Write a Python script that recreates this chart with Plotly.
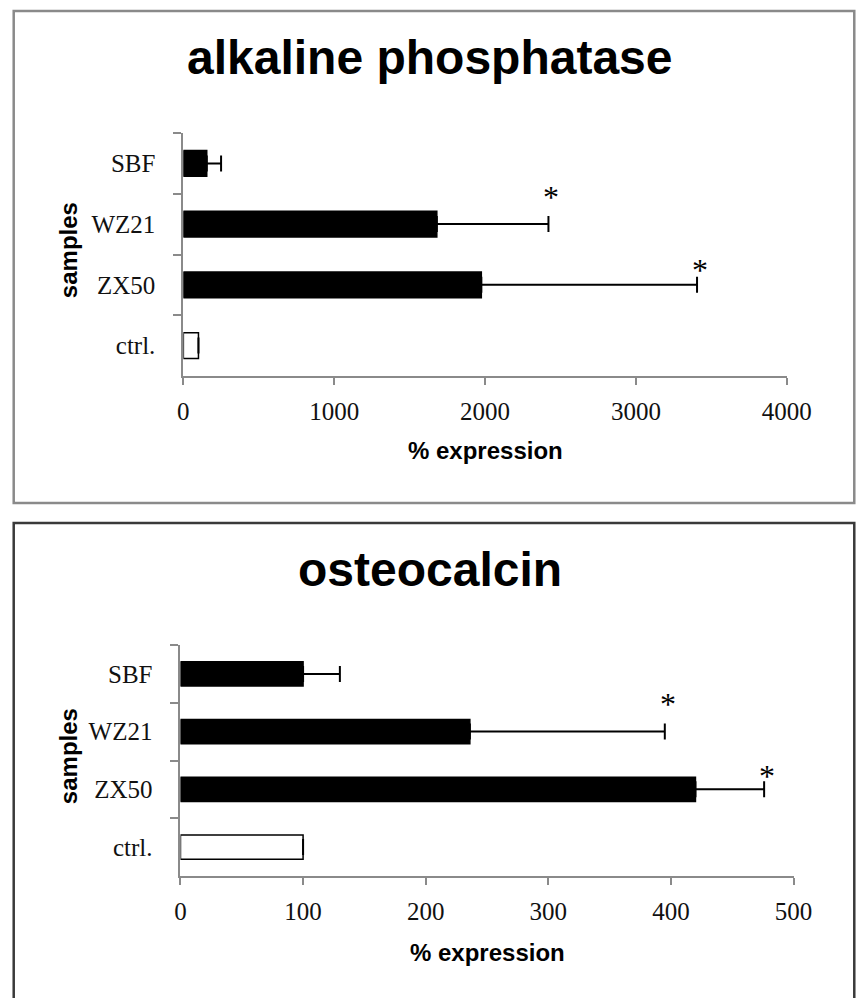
import plotly.graph_objects as go

# ---- data ----
categories = ["ctrl.", "ZX50", "WZ21", "SBF"]
alp_mean = [100, 1975, 1680, 155]
alp_err = [None, 1430, 740, 95]
ocn_mean = [100, 420, 236, 100]
ocn_err = [None, 56, 159, 30]
alp_ticks = [0, 1000, 2000, 3000, 4000]
ocn_ticks = [0, 100, 200, 300, 400, 500]
significant = ["ZX50", "WZ21"]
titles = ["alkaline phosphatase", "osteocalcin"]
x_title = "% expression"
y_title = "samples"

W, H = 860, 998
def fx(p):
    return p / W
def fy(p):
    return 1 - p / H

SERIF = "Liberation Serif, Times New Roman, serif"
SANS = "Liberation Sans, Arial, sans-serif"
AXC = "#8a8a8a"

bar_colors = ["white" if c == "ctrl." else "black" for c in categories]

fig = go.Figure()

panels = [
    dict(mean=alp_mean, err=alp_err, ticks=alp_ticks, xa="x", ya="y",
         xd=[184, 810], yd=[133, 376], title_y=57, box=[11, 503], boxc="#8a8a8a",
         xt_y=451, star_lift={"WZ21": 27, "ZX50": 15}),
    dict(mean=ocn_mean, err=ocn_err, ticks=ocn_ticks, xa="x2", ya="y2",
         xd=[181, 817], yd=[645, 876], title_y=569, box=[523, 1012], boxc="#3a3a3a",
         xt_y=952, star_lift={"WZ21": 28, "ZX50": 13}),
]

annotations = []
shapes = []
for i, p in enumerate(panels):
    fig.add_trace(go.Bar(
        x=p["mean"], y=categories, orientation="h",
        marker=dict(color=bar_colors, line=dict(color="black", width=1.5)),
        width=0.42,
        error_x=dict(type="data", symmetric=False, array=p["err"],
                     arrayminus=[0] * len(categories),
                     color="black", thickness=2, width=8),
        xaxis=p["xa"], yaxis=p["ya"], showlegend=False,
    ))
    sfx = "" if i == 0 else "2"
    fig.update_layout(**{
        "xaxis" + sfx: dict(
            domain=[fx(p["xd"][0]), fx(p["xd"][1])],
            range=[0, p["ticks"][-1]], tickvals=p["ticks"],
            showline=True, linecolor=AXC, linewidth=2,
            ticks="outside", ticklen=7, tickwidth=2, tickcolor=AXC,
            showgrid=False, zeroline=False, anchor="y" + sfx,
            tickfont=dict(family=SERIF, size=25, color="#111"),
            ticklabelstandoff=5,
        ),
        "yaxis" + sfx: dict(
            domain=[fy(p["yd"][1]), fy(p["yd"][0])],
            categoryorder="array", categoryarray=categories,
            range=[-0.5, len(categories) - 0.5],
            showline=True, linecolor=AXC, linewidth=2,
            ticks="outside", tickson="boundaries", ticklen=8, tickwidth=2, tickcolor=AXC,
            showgrid=False, zeroline=False, anchor="x" + sfx,
            tickfont=dict(family=SERIF, size=25, color="#111"),
            ticklabelstandoff=21,
        ),
    })
    # panel title
    annotations.append(dict(text=titles[i], xref="paper", yref="paper",
                            x=fx(440), y=fy(p["title_y"]), xanchor="center", yanchor="middle",
                            showarrow=False,
                            font=dict(family=SANS, size=48, color="black", weight="bold")))
    # x axis title
    annotations.append(dict(text=x_title, xref="paper", yref="paper",
                            x=fx((p["xd"][0] + p["xd"][1]) / 2), y=fy(p["xt_y"]),
                            xanchor="center", yanchor="middle", showarrow=False,
                            font=dict(family=SANS, size=24, color="black", weight="bold")))
    # y axis title
    annotations.append(dict(text=y_title, xref="paper", yref="paper",
                            x=fx(65), y=fy((p["yd"][0] + p["yd"][1]) / 2 - 4),
                            xanchor="center", yanchor="middle", textangle=-90, showarrow=False,
                            font=dict(family=SANS, size=24, color="black", weight="bold")))
    # significance stars
    for cat in significant:
        k = categories.index(cat)
        annotations.append(dict(text="*", xref=p["xa"], yref=p["ya"],
                                x=p["mean"][k] + p["err"][k], y=cat,
                                xanchor="center", yanchor="middle", showarrow=False,
                                xshift=3, yshift=p["star_lift"][cat],
                                font=dict(family=SERIF, size=32, color="black")))
    # panel border
    shapes.append(dict(type="rect", xref="paper", yref="paper",
                       x0=fx(8), x1=fx(880), y0=fy(p["box"][1]), y1=fy(p["box"][0]),
                       line=dict(color=p["boxc"], width=2.5), fillcolor="rgba(0,0,0,0)"))

fig.update_layout(
    width=W, height=H, margin=dict(l=0, r=0, t=0, b=0),
    paper_bgcolor="white", plot_bgcolor="white",
    annotations=annotations, shapes=shapes, bargap=0.5,
)

fig.write_html("out.html")
